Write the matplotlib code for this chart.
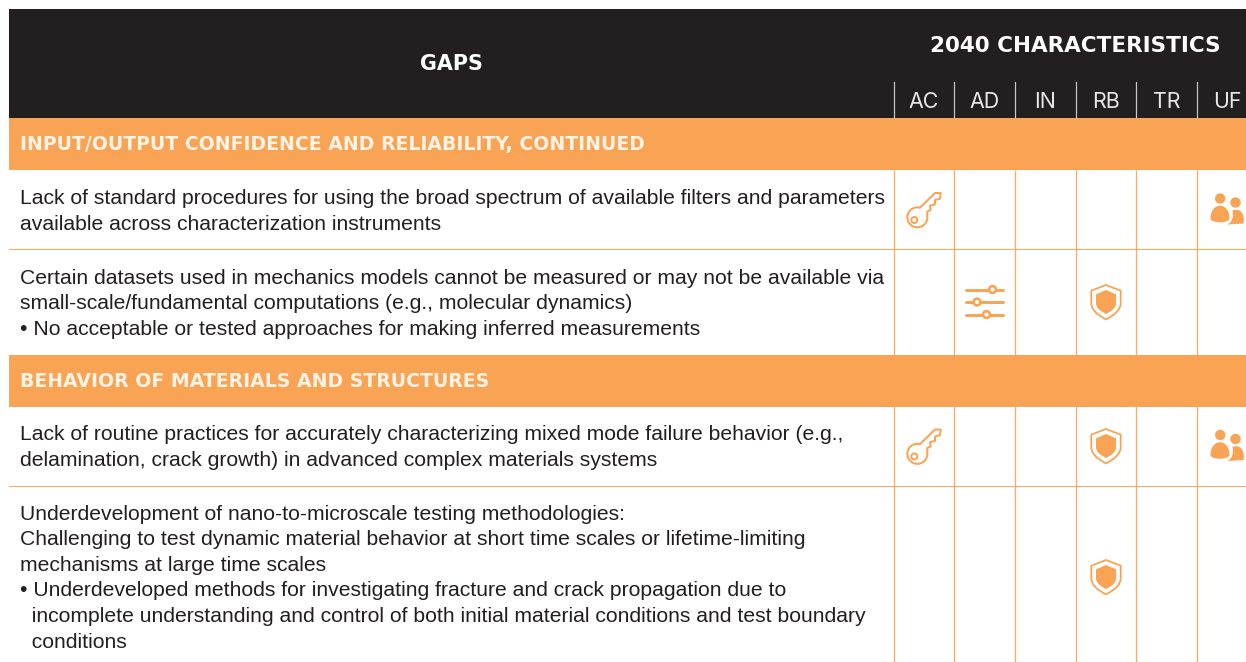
import numpy as np
import matplotlib
matplotlib.use('Agg')
import matplotlib.pyplot as plt
from matplotlib.patches import Rectangle, Circle, PathPatch
from matplotlib.path import Path

plt.rcParams['font.family'] = ['Liberation Sans', 'DejaVu Sans']

ORANGE = '#F9A355'
DARK = '#231F20'
HEAD_FONT = ['Inter', 'Liberation Sans', 'DejaVu Sans']
WIDE_FONT = ['DejaVu Sans']

columns = ['AC', 'AD', 'IN', 'RB', 'TR', 'UF']
left_title = 'GAPS'
right_title = '2040 CHARACTERISTICS'
band_titles = ['INPUT/OUTPUT CONFIDENCE AND RELIABILITY, CONTINUED',
               'BEHAVIOR OF MATERIALS AND STRUCTURES']

row_text = [
    ['Lack of standard procedures for using the broad spectrum of available filters and parameters',
     'available across characterization instruments'],
    ['Certain datasets used in mechanics models cannot be measured or may not be available via',
     'small-scale/fundamental computations (e.g., molecular dynamics)',
     '• No acceptable or tested approaches for making inferred measurements'],
    ['Lack of routine practices for accurately characterizing mixed mode failure behavior (e.g.,',
     'delamination, crack growth) in advanced complex materials systems'],
    ['Underdevelopment of nano-to-microscale testing methodologies:',
     'Challenging to test dynamic material behavior at short time scales or lifetime-limiting',
     'mechanisms at large time scales',
     '• Underdeveloped methods for investigating fracture and crack propagation due to',
     '  incomplete understanding and control of both initial material conditions and test boundary',
     '  conditions'],
]
row_marks = [
    {'AC': 'key', 'UF': 'people'},
    {'AD': 'sliders', 'RB': 'shield'},
    {'AC': 'key', 'RB': 'shield', 'UF': 'people'},
    {'RB': 'shield'},
]

# layout in pixels
col_edges = [894, 954, 1015, 1076, 1136, 1197, 1258]
row_tops = [170, 249, 406, 486]
row_bottoms = [249, 355, 486, 662]
row_mid = [209.5, 302, 446, 577]
row_first_base = [204.5, 283.5, 440.5, 519.5]
line_step = 25.6
band_tops = [118, 355]
band_h = 51.5

fig = plt.figure(figsize=(12.46, 6.62), dpi=100)
ax = fig.add_axes([0, 0, 1, 1])
ax.set_xlim(0, 1246)
ax.set_ylim(662, 0)
ax.axis('off')

px = 0.72  # one pixel in points


def draw_key(cx, cy):
    t = np.radians(np.linspace(-75, -360, 40))
    hx = 112 + 30 * np.cos(t)
    hy = 142 + 30 * np.sin(t)
    teeth = [(142, 124), (152, 120), (150, 107), (165, 103), (165, 90), (180, 86),
             (182, 69), (165, 69)]
    pts = np.array(list(zip(hx, hy)) + teeth, dtype=float)
    pts = (pts - [132, 118.5]) / 3 + [cx, cy]
    ax.add_patch(plt.Polygon(pts, closed=True, fill=False, ec=ORANGE, lw=2 * px, joinstyle='round'))
    ax.add_patch(Circle((cx - 9.7, cy + 10.5), 3, fill=False, ec=ORANGE, lw=2 * px))


def shield_path(cx, cy, w, top, sh, side, bot):
    verts = [(0, top), (w, sh), (w, side), (w, side + (bot - side) * 0.55), (0, bot),
             (-w, side + (bot - side) * 0.55), (-w, side), (-w, sh), (0, top)]
    codes = [Path.MOVETO, Path.LINETO, Path.LINETO, Path.CURVE3, Path.CURVE3,
             Path.CURVE3, Path.CURVE3, Path.LINETO, Path.CLOSEPOLY]
    return Path([(cx + x, cy + y) for x, y in verts], codes)


def draw_shield(cx, cy):
    ax.add_patch(PathPatch(shield_path(cx, cy, 14.7, -17, -11.3, 1.5, 17.3), fc='none', ec=ORANGE, lw=1.8 * px))
    ax.add_patch(PathPatch(shield_path(cx, cy, 10, -12, -7.7, 1.5, 12), fc=ORANGE, ec='none'))


def draw_sliders(cx, cy):
    for dy, knob in zip([-12.5, 0, 12.5], [8, -7.5, 2]):
        ax.plot([cx - 18.7, cx + 18.7], [cy + dy, cy + dy], color=ORANGE, lw=3 * px, solid_capstyle='round')
        ax.add_patch(Circle((cx + knob, cy + dy), 3.4, fc='white', ec=ORANGE, lw=2.6 * px, zorder=3))


def draw_people(cx, cy):
    cubic = [Path.MOVETO, Path.CURVE4, Path.CURVE4, Path.CURVE4, Path.CURVE4, Path.CURVE4, Path.CURVE4]
    ax.add_patch(Circle((cx - 1.3, cy - 11), 5.2, fc=ORANGE, ec='none'))
    ax.add_patch(Circle((cx + 14, cy - 7), 5.2, fc=ORANGE, ec='none'))
    big = [(-11, 9), (-11, -8), (8, -8), (8, 9), (8, 14), (-11, 14), (-11, 9)]
    ax.add_patch(PathPatch(Path([(cx + x, cy + y) for x, y in big], cubic), fc=ORANGE, ec='none'))
    small = [(6, 15), (11, 12), (12, 8), (11, 1), (18, -2), (24, 4), (22, 14)]
    ax.add_patch(PathPatch(Path([(cx + x, cy + y) for x, y in small + [(6, 15)]],
                                [Path.MOVETO, Path.CURVE4, Path.CURVE4, Path.CURVE4, Path.CURVE4,
                                 Path.CURVE4, Path.CURVE4, Path.CLOSEPOLY]), fc=ORANGE, ec='none'))


icons = {'key': draw_key, 'shield': draw_shield, 'sliders': draw_sliders, 'people': draw_people}

# header and bands
ax.add_patch(Rectangle((9, 9), 1237, 109, fc=DARK, ec='none'))
for top, title in zip(band_tops, band_titles):
    ax.add_patch(Rectangle((9, top), 1237, band_h, fc=ORANGE, ec='none'))
    ax.text(20, top + 32, title, color='#FFF3E6', fontsize=13.55, fontweight='bold',
            family=WIDE_FONT, va='baseline')

ax.text(451.5, 70, left_title, color='white', fontsize=14.9, fontweight='bold',
        family=WIDE_FONT, ha='center', va='baseline')
ax.text(1221, 52, right_title, color='white', fontsize=15.5, fontweight='bold',
        family=WIDE_FONT, ha='right', va='baseline')

for i, name in enumerate(columns):
    x0 = col_edges[i]
    ax.plot([x0, x0], [82, 118], color='#C8C8C8', lw=1.2 * px)
    cx = (x0 + col_edges[i + 1]) / 2 if i < 5 else 1227
    ax.text(cx, 108, name, color='#E8E8E8', fontsize=15.4, family=HEAD_FONT, ha='center', va='baseline')

# rows
for r, lines in enumerate(row_text):
    top, bottom = row_tops[r], row_bottoms[r]
    if r in (1, 3):
        ax.plot([9, 1246], [top, top], color=ORANGE, lw=1.1 * px, alpha=0.9)
    for x0 in col_edges[:6]:
        ax.plot([x0, x0], [top, bottom], color=ORANGE, lw=1.3 * px, alpha=0.9, solid_capstyle='butt')
    for k, line in enumerate(lines):
        ax.text(20, row_first_base[r] + k * line_step, line, color=DARK, fontsize=15.18, va='baseline')
    for col, icon in row_marks[r].items():
        i = columns.index(col)
        cx = (col_edges[i] + col_edges[i + 1]) / 2 if i < 5 else 1221.5
        icons[icon](cx, row_mid[r])

fig.savefig('out.png', dpi=100, facecolor='white')
